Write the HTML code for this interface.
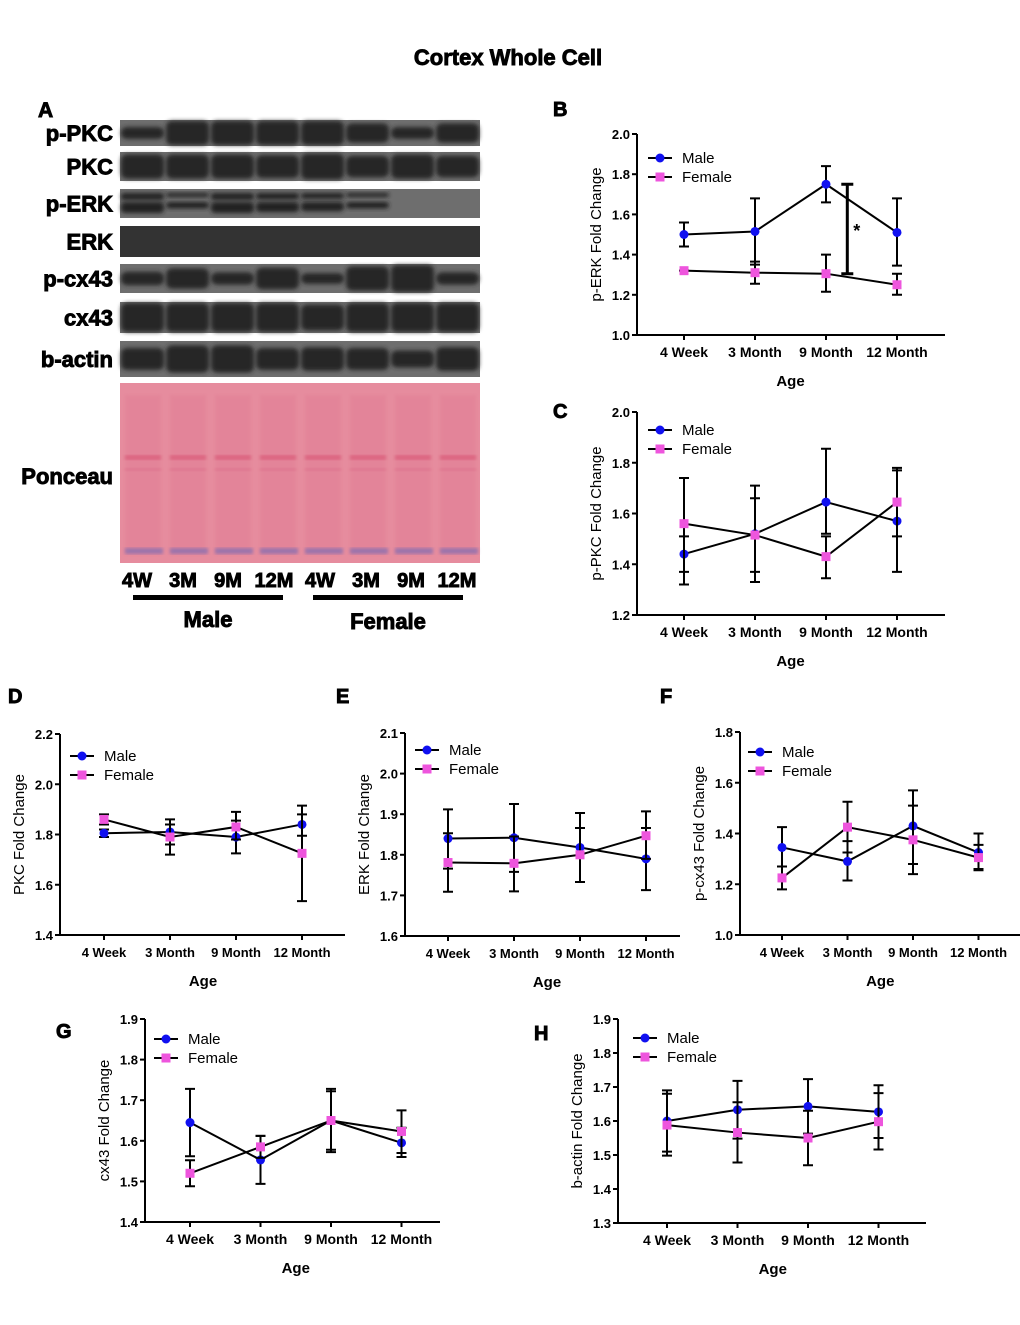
<!DOCTYPE html>
<html><head><meta charset="utf-8">
<style>
html,body{margin:0;padding:0;background:#fff;}
svg text{font-family:"Liberation Sans",Arial,sans-serif;}
.b{font-weight:bold;}
.hv{font-weight:bold;stroke:#000;stroke-width:0.9;}
</style></head>
<body>
<svg id="fig" width="1020" height="1320" viewBox="0 0 1020 1320" xmlns="http://www.w3.org/2000/svg">
<defs>
<filter id="blur" x="-20%" y="-50%" width="140%" height="200%"><feGaussianBlur stdDeviation="2.2"/></filter>
<filter id="blur2"><feGaussianBlur stdDeviation="1.5"/></filter>
</defs>
<text x="508" y="65" text-anchor="middle" font-size="22" class="hv">Cortex Whole Cell</text>
<g id="blots">
<text x="38" y="117" font-size="21" class="hv">A</text>
</g>
<g id="charts"></g>
</svg>
<script>
const NS='http://www.w3.org/2000/svg';
const fig=document.getElementById('fig');
function mk(tag,attrs,parent,txt){const e=document.createElementNS(NS,tag);for(const k in attrs)e.setAttribute(k,attrs[k]);if(txt!==undefined)e.textContent=txt;parent.appendChild(e);return e;}

/* ---------- Blots ---------- */
const blotRows=['p-PKC','PKC','p-ERK','ERK','p-cx43','cx43','b-actin'];
const blotTop=[120,152,189,226,264,302,341];
const blotBot=[146,181,218,257,293,333,377];
const bandInt=[[0.5,1,1,1,1,0.8,0.5,0.8],[0.9,0.9,0.9,0.85,0.95,0.8,0.9,0.8],[0,0,0,0,0,0,0,0],[1,1,1,1,1,1,1,1],[0.5,0.75,0.45,0.8,0.4,0.9,1,0.45],[1,1,1,1,0.9,1,1,1],[0.65,0.8,0.8,0.65,0.7,0.65,0.5,0.7]];
const blots=document.getElementById('blots');
const lanesX=[120,165,210,255,300,345,390,435,480];
blotRows.forEach((r,i)=>{
  const g=mk('g',{},blots);
  
  
  mk('text',{x:113,y:(blotTop[i]+blotBot[i])/2+8,'text-anchor':'end','font-size':22,class:'hv'},g,r);
  const h=blotBot[i]-blotTop[i];
  mk('rect',{x:120,y:blotTop[i],width:360,height:h,fill:i==3?'#333':'#6e6e6e'},g);
  if(i==3)return;
  for(let l=0;l<8;l++){
    const x0=lanesX[l]+1, w=43;
    if(i==2){
      const pe=[1,0.5,1,0.9,0.8,0.5,0.08,0.03][l];
      if(pe<0.1)continue;
      mk('rect',{x:x0,y:blotTop[i]+13,width:w,height:9*pe+2,rx:4,fill:'#222',filter:'url(#blur)'},g);
      mk('rect',{x:x0,y:blotTop[i]+4,width:w,height:6*pe+1,rx:3,fill:'#222',filter:'url(#blur)'},g);
    } else {
      const v=bandInt[i][l]; const bh=(h-2)*v;
      mk('rect',{x:x0,y:blotTop[i]+h/2-bh/2,width:w,height:bh,rx:6,fill:'#262626',filter:'url(#blur)'},g);
    }
  }
});
// Ponceau
{
const g=mk('g',{},blots);


mk('text',{x:113,y:484,'text-anchor':'end','font-size':22,class:'hv'},g,'Ponceau');
mk('rect',{x:120,y:383,width:360,height:180,fill:'#e68c9e'},g);
for(let l=0;l<8;l++){
  const x0=lanesX[l]+5;
  mk('rect',{x:x0,y:395,width:36,height:160,fill:'#de7890',opacity:0.35,filter:'url(#blur2)'},g);
  mk('rect',{x:x0,y:455,width:36,height:5,fill:'#d85070',opacity:0.6,filter:'url(#blur2)'},g);
  mk('rect',{x:x0,y:468,width:36,height:3,fill:'#d86080',opacity:0.4,filter:'url(#blur2)'},g);
  mk('rect',{x:x0,y:548,width:38,height:6,fill:'#8a70b0',opacity:0.8,filter:'url(#blur2)'},g);
}
const labs=['4W','3M','9M','12M','4W','3M','9M','12M'];
const labx=[137,183,228,274,320,366,411,457];
labs.forEach((t,k)=>{const e=mk('text',{x:labx[k],y:587,'text-anchor':'middle','font-size':20,class:'hv'},g,t);

});
mk('rect',{x:133,y:595,width:150,height:5,fill:'#000'},g);
mk('rect',{x:313,y:595,width:150,height:5,fill:'#000'},g);
mk('text',{x:208,y:627,'text-anchor':'middle','font-size':22,class:'hv'},g,'Male');
mk('text',{x:388,y:629,'text-anchor':'middle','font-size':22,class:'hv'},g,'Female');
}

/* ---------- Chart data ---------- */
const categories=['4 Week','3 Month','9 Month','12 Month'];
const bMale=[1.50,1.515,1.75,1.51], bMaleHi=[1.56,1.68,1.84,1.68], bMaleLo=[1.44,1.35,1.66,1.345];
const bFemale=[1.32,1.31,1.305,1.25], bFemaleHi=[1.32,1.365,1.40,1.305], bFemaleLo=[1.32,1.255,1.215,1.20];
const cMale=[1.44,1.52,1.645,1.57], cMaleHi=[1.51,1.71,1.855,1.78], cMaleLo=[1.37,1.37,1.52,1.37];
const cFemale=[1.56,1.515,1.43,1.645], cFemaleHi=[1.74,1.66,1.51,1.77], cFemaleLo=[1.32,1.33,1.345,1.51];
const dMale=[1.805,1.81,1.79,1.84], dMaleHi=[1.82,1.86,1.855,1.915], dMaleLo=[1.79,1.76,1.725,1.795];
const dFemale=[1.86,1.79,1.83,1.725], dFemaleHi=[1.88,1.84,1.89,1.88], dFemaleLo=[1.84,1.72,1.78,1.535];
const eMale=[1.84,1.842,1.818,1.79], eMaleHi=[1.912,1.925,1.903,1.866], eMaleLo=[1.766,1.758,1.733,1.713];
const eFemale=[1.781,1.779,1.80,1.847], eFemaleHi=[1.853,1.845,1.866,1.907], eFemaleLo=[1.709,1.71,1.733,1.79];
const fMale=[1.345,1.29,1.43,1.325], fMaleHi=[1.425,1.37,1.57,1.40], fMaleLo=[1.27,1.215,1.28,1.255];
const fFemale=[1.225,1.425,1.375,1.305], fFemaleHi=[1.27,1.525,1.51,1.355], fFemaleLo=[1.18,1.325,1.24,1.26];
const gMale=[1.645,1.553,1.65,1.595], gMaleHi=[1.728,1.612,1.728,1.632], gMaleLo=[1.562,1.494,1.572,1.56];
const gFemale=[1.52,1.585,1.65,1.623], gFemaleHi=[1.552,1.612,1.722,1.675], gFemaleLo=[1.488,1.558,1.578,1.57];
const hMale=[1.60,1.633,1.643,1.627], hMaleHi=[1.69,1.718,1.723,1.705], hMaleLo=[1.51,1.548,1.563,1.55];
const hFemale=[1.588,1.566,1.55,1.598], hFemaleHi=[1.68,1.655,1.63,1.682], hFemaleLo=[1.498,1.478,1.47,1.516];
const bTicks=['1.0','1.2','1.4','1.6','1.8','2.0'];
const cTicks=['1.2','1.4','1.6','1.8','2.0'];
const dTicks=['1.4','1.6','1.8','2.0','2.2'];
const eTicks=['1.6','1.7','1.8','1.9','2.0','2.1'];
const fTicks=['1.0','1.2','1.4','1.6','1.8'];
const gTicks=['1.4','1.5','1.6','1.7','1.8','1.9'];
const hTicks=['1.3','1.4','1.5','1.6','1.7','1.8','1.9'];

const charts=[
 {id:'b',letter:'B',lx:553,ly:116,ax:637,yTop:134,yBot:335,xEnd:945,cx0:684,dx:71,ticks:bTicks,ylab:'p-ERK Fold Change',legx:660,legy:158,fs:14,m:bMale,mh:bMaleHi,ml:bMaleLo,f:bFemale,fh:bFemaleHi,fl:bFemaleLo,sig:true},
 {id:'c',letter:'C',lx:553,ly:418,ax:637,yTop:412,yBot:615,xEnd:945,cx0:684,dx:71,ticks:cTicks,ylab:'p-PKC Fold Change',legx:660,legy:430,fs:14,m:cMale,mh:cMaleHi,ml:cMaleLo,f:cFemale,fh:cFemaleHi,fl:cFemaleLo},
 {id:'d',letter:'D',lx:8,ly:703,ax:60,yTop:734,yBot:935,xEnd:345,cx0:104,dx:66,ticks:dTicks,ylab:'PKC Fold Change',legx:82,legy:756,fs:13,m:dMale,mh:dMaleHi,ml:dMaleLo,f:dFemale,fh:dFemaleHi,fl:dFemaleLo},
 {id:'e',letter:'E',lx:336,ly:703,ax:405,yTop:733,yBot:936,xEnd:680,cx0:448,dx:66,ticks:eTicks,ylab:'ERK Fold Change',legx:427,legy:750,fs:13,m:eMale,mh:eMaleHi,ml:eMaleLo,f:eFemale,fh:eFemaleHi,fl:eFemaleLo},
 {id:'f',letter:'F',lx:660,ly:703,ax:740,yTop:732,yBot:935,xEnd:1020,cx0:782,dx:65.5,ticks:fTicks,ylab:'p-cx43 Fold Change',legx:760,legy:752,fs:13,m:fMale,mh:fMaleHi,ml:fMaleLo,f:fFemale,fh:fFemaleHi,fl:fFemaleLo},
 {id:'g',letter:'G',lx:56,ly:1038,ax:145,yTop:1019,yBot:1222,xEnd:440,cx0:190,dx:70.5,ticks:gTicks,ylab:'cx43 Fold Change',legx:166,legy:1039,fs:14,m:gMale,mh:gMaleHi,ml:gMaleLo,f:gFemale,fh:gFemaleHi,fl:gFemaleLo},
 {id:'h',letter:'H',lx:534,ly:1040,ax:618,yTop:1019,yBot:1223,xEnd:926,cx0:667,dx:70.5,ticks:hTicks,ylab:'b-actin Fold Change',legx:645,legy:1038,fs:14,m:hMale,mh:hMaleHi,ml:hMaleLo,f:hFemale,fh:hFemaleHi,fl:hFemaleLo},
];
const root=document.getElementById('charts');
charts.forEach(c=>{
  const g=mk('g',{},root);
  
  
  const vmin=parseFloat(c.ticks[0]), vmax=parseFloat(c.ticks[c.ticks.length-1]);
  const y=v=>c.yBot-(v-vmin)/(vmax-vmin)*(c.yBot-c.yTop);
  const x=i=>c.cx0+i*c.dx;
  const pl=mk('text',{x:c.lx,y:c.ly,'font-size':20,class:'hv'},g,c.letter);
  
  
  const ya=mk('line',{x1:c.ax,y1:c.yTop,x2:c.ax,y2:c.yBot+1,stroke:'#000','stroke-width':2},g);
  
  
  const xa=mk('line',{x1:c.ax-1,y1:c.yBot,x2:c.xEnd,y2:c.yBot,stroke:'#000','stroke-width':2},g);
  
  
  c.ticks.forEach(t=>{
    const v=parseFloat(t), yy=y(v);
    mk('line',{x1:c.ax-5,y1:yy,x2:c.ax,y2:yy,stroke:'#000','stroke-width':2},g);
    const tl=mk('text',{x:c.ax-7,y:yy+5,'text-anchor':'end','font-size':13,class:'b'},g,t);
    
    
  });
  categories.forEach((cat,i)=>{
    mk('line',{x1:x(i),y1:c.yBot,x2:x(i),y2:c.yBot+5,stroke:'#000','stroke-width':2},g);
    const tl=mk('text',{x:x(i),y:c.yBot+22,'text-anchor':'middle','font-size':c.fs,class:'b'},g,cat);
    
    
  });
  const xt=mk('text',{x:c.cx0+1.5*c.dx,y:c.yBot+51,'text-anchor':'middle','font-size':15,class:'b'},g,'Age');
  
  
  const ymid=(c.yTop+c.yBot)/2, ylx=c.ax-36;
  const yt=mk('text',{x:ylx,y:ymid,'text-anchor':'middle','font-size':15,transform:`rotate(-90 ${ylx} ${ymid})`},g,c.ylab);
  
  
  [[c.m,c.mh,c.ml,'male'],[c.f,c.fh,c.fl,'female']].forEach(([vals,hi,lo,nm])=>{
    const sg=mk('g',{},g);
    
    
    mk('polyline',{points:vals.map((v,i)=>x(i)+','+y(v)).join(' '),fill:'none',stroke:'#000','stroke-width':2},sg);
    vals.forEach((v,i)=>{
      const eb=mk('path',{d:`M${x(i)},${y(hi[i])}V${y(lo[i])}M${x(i)-5},${y(hi[i])}h10M${x(i)-5},${y(lo[i])}h10`,stroke:'#000','stroke-width':2,fill:'none'},sg);
      
      
    });
    vals.forEach((v,i)=>{
      let p;
      if(nm==='male') p=mk('circle',{cx:x(i),cy:y(v),r:4.5,fill:'#1010f0'},sg);
      else p=mk('rect',{x:x(i)-4.5,y:y(v)-4.5,width:9,height:9,fill:'#ee55dd'},sg);
      
      
    });
  });
  if(c.sig){
    const sx=c.cx0+2.3*c.dx;
    const sg=mk('path',{d:`M${sx},${y(c.m[2])}V${y(c.f[2])}M${sx-6},${y(c.m[2])}h12M${sx-6},${y(c.f[2])}h12`,stroke:'#000','stroke-width':3,fill:'none'},g);
    
    
    const st=mk('text',{x:sx+6,y:(y(c.m[2])+y(c.f[2]))/2+8,'font-size':18,class:'b'},g,'*');
    
    
  }
  const lg=mk('g',{},g);
  
  
  [['Male',0],['Female',19]].forEach(([t,dy])=>{
    const e=mk('g',{},lg);
    
    
    const yy=c.legy+dy;
    mk('line',{x1:c.legx-12,y1:yy,x2:c.legx+12,y2:yy,stroke:'#000','stroke-width':2},e);
    if(t==='Male') mk('circle',{cx:c.legx,cy:yy,r:4.5,fill:'#1010f0'},e);
    else mk('rect',{x:c.legx-4.5,y:yy-4.5,width:9,height:9,fill:'#ee55dd'},e);
    mk('text',{x:c.legx+22,y:yy+5,'font-size':15},e,t);
  });
});
</script>
</body></html>
